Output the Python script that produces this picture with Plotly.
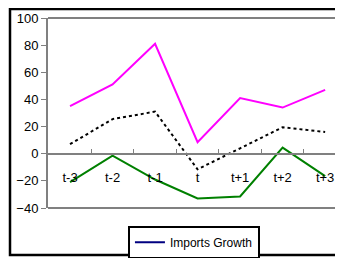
import plotly.graph_objects as go

categories = ["t-3", "t-2", "t-1", "t", "t+1", "t+2", "t+3"]
magenta_series = [35, 51, 81, 8.5, 41, 34, 47]
dotted_series = [7, 25.5, 31, -11.5, 4, 19.5, 16]
green_series = [-21, -1.5, -19, -33, -31.5, 4.5, -16.5]
legend_name = "Imports Growth"
y_ticks = [-40, -20, 0, 20, 40, 60, 80, 100]

FONT = "Liberation Sans, Arial, sans-serif"
GRAY = "#808080"

fig = go.Figure()
fig.add_trace(go.Scatter(x=categories, y=magenta_series, mode="lines",
                         line=dict(color="#FF00FF", width=2), showlegend=False))
fig.add_trace(go.Scatter(x=categories, y=dotted_series, mode="lines",
                         line=dict(color="black", width=2, dash="dot"), showlegend=False))
fig.add_trace(go.Scatter(x=categories, y=green_series, mode="lines",
                         line=dict(color="#008000", width=2), showlegend=False))
fig.add_trace(go.Scatter(x=categories, y=[None] * len(categories), mode="lines",
                         line=dict(color="#000080", width=2), name=legend_name, showlegend=True))

# the page body adds an 8px offset, so the figure is 8px smaller than the window
PH = 190.0  # plot height in px
fig.update_layout(
    width=335, height=250,
    margin=dict(l=40, r=0, t=10, b=50, pad=0, autoexpand=False),
    paper_bgcolor="white", plot_bgcolor="white",
    font=dict(family=FONT, size=13, color="black"),
    legend=dict(x=0.271, y=-0.094, xanchor="left", yanchor="top",
                bordercolor="black", borderwidth=2, bgcolor="white",
                font=dict(size=12), itemwidth=30),
    xaxis=dict(type="category", range=[-0.518, 6.42], anchor="free", position=40/140,
               showline=True, linecolor=GRAY, linewidth=2,
               ticks="inside", ticklen=4, tickcolor=GRAY, tickwidth=1,
               tickson="boundaries", showgrid=False, zeroline=False,
               ticklabelstandoff=12,
               automargin=False, tickfont=dict(size=13)),
    yaxis=dict(range=[-40, 100], tickvals=y_ticks, showgrid=False, zeroline=False,
               showline=True, linecolor=GRAY, linewidth=2,
               ticks="outside", ticklen=5, tickcolor=GRAY, tickwidth=1,
               automargin=False, tickfont=dict(size=13)),
    shapes=[
        dict(type="line", xref="paper", yref="paper", x0=0, x1=1.05, y0=1, y1=1,
             line=dict(color=GRAY, width=2)),
        dict(type="line", xref="paper", yref="paper", x0=0, x1=1.05, y0=0, y1=0,
             line=dict(color=GRAY, width=2)),
        dict(type="rect", xref="paper", yref="paper", x0=-38 / 295, x1=1.1,
             y0=-47 / PH, y1=1 + 9 / PH, line=dict(color="black", width=2.5)),
    ],
)

fig.write_html("out.html")
